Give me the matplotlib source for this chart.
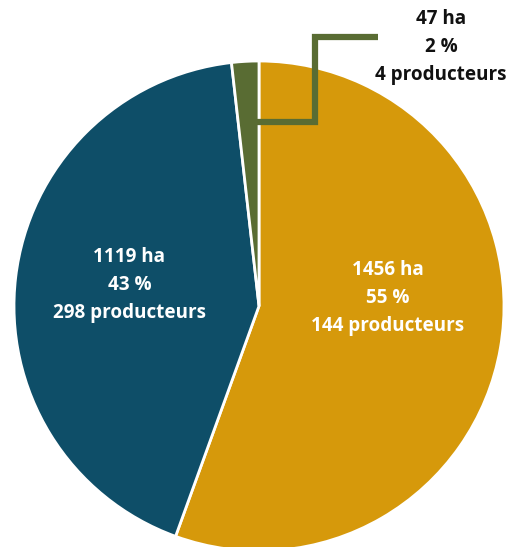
import matplotlib
matplotlib.use("Agg")
import matplotlib.pyplot as plt

categories = ["Grands", "Moyens", "Petits"]
hectares = [1456, 1119, 47]
percents = [55, 43, 2]
producers = [144, 298, 4]
colors = ["#D6990B", "#0E4E68", "#596C33"]

W, H = 509, 547
fig = plt.figure(figsize=(W / 100, H / 100), dpi=100)
ax = fig.add_axes([0, 0, 1, 1])

cx, cy, r = 259, H - 306, 245
ax.pie(hectares, colors=colors, startangle=90, counterclock=False,
       center=(cx, cy), radius=r, frame=True,
       wedgeprops=dict(edgecolor="white", linewidth=2))
ax.set_xlim(0, W)
ax.set_ylim(0, H)
ax.set_aspect("equal")
ax.axis("off")

font = dict(family=["Open Sans", "DejaVu Sans"], fontweight="bold", fontsize=13.6,
            ha="center", va="center", linespacing=1.51)

def lab(i):
    return f"{hectares[i]} ha\n{percents[i]} %\n{producers[i]} producteurs"

ax.text(388, H - 298, lab(0), color="white", **font)
ax.text(129.5, H - 285, lab(1), color="white", **font)
ax.text(441, H - 47, lab(2), color="#111111", **font)

# leader line for small slice
ax.plot([257, 315, 315, 378], [H - 122, H - 122, H - 37, H - 37],
        color=colors[2], linewidth=4.5, solid_capstyle="butt",
        solid_joinstyle="miter")

fig.savefig("out.png", dpi=100)
